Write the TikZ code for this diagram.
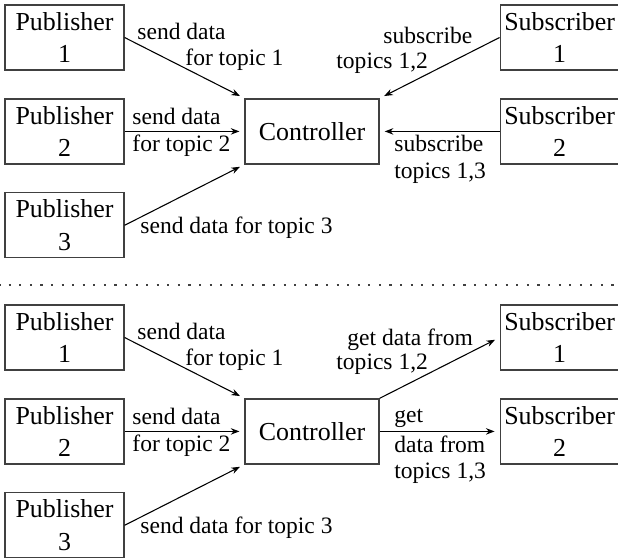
\documentclass[tikz,border=0pt]{standalone}
\usepackage{fontspec}
\setmainfont{Liberation Serif}
\usetikzlibrary{positioning,arrows.meta}

\begin{document}
\begin{tikzpicture}[x=0.4633pt, y=-0.4633pt,
  font=\fontsize{12}{15}\selectfont, node distance=12.8pt and 55.5pt,
  box/.style={draw=black!75, line width=0.6pt, text width=51.5pt, align=center, inner xsep=1.8pt, inner ysep=1pt, minimum height=30.1pt},
  ctrl/.style={draw=black!75, line width=0.6pt, minimum width=62.1pt, minimum height=30.1pt, inner sep=1pt},
  arr/.style={-{Stealth[length=4pt,width=3pt]}, line width=0.5pt, shorten >=2.3pt},
  lab/.style={font=\fontsize{10.9}{13}\selectfont, anchor=base west, inner sep=0pt},
  sep/.style={line width=0.7pt, black!75, dash pattern=on 1pt off 3.9pt, dash phase=-4pt}]
\useasboundingbox (0,0) rectangle (618,557);

% upper half: subscribers send requests to the controller
\node[box] (pub1) at (64.5,37.5) {Publisher\\1};
\node[box, below=of pub1] (pub2) {Publisher\\2};
\node[box, below=of pub2] (pub3) {Publisher\\3};
\node[ctrl, right=of pub2] (ctrl) {Controller};
\node[box, right=of ctrl] (sub2) {Subscriber\\2};
\node[box, above=of sub2] (sub1) {Subscriber\\1};
\draw[arr] (pub1.east) -- (ctrl.north west);
\draw[arr] (pub2.east) -- (ctrl.west);
\draw[arr] (pub3.east) -- (ctrl.south west);
\draw[arr] (sub1.west) -- (ctrl.north east);
\draw[arr] (sub2.west) -- (ctrl.east);
\node[lab] (t1a) at (137,39) {send data};
\node[lab] (t1b) at (185,65) {for topic 1};
\node[lab] (t2a) at (132,124) {send data};
\node[lab] (t2b) at (132,151) {for topic 2};
\node[lab] (t3) at (140,233) {send data for topic 3};
\node[lab] (u1a) at (383,43) {subscribe};
\node[lab] (u1b) at (336,68) {topics 1,2};
\node[lab] (u2a) at (394,151.5) {subscribe};
\node[lab] (u2b) at (394,178) {topics 1,3};

% separator
\coordinate (sepl) at (0,285);
\coordinate (sepr) at (618,285);
\draw[sep] (sepl) -- (sepr);

% lower half: the controller forwards the data
\node[box] (pubB1) at (64.5,337.5) {Publisher\\1};
\node[box, below=of pubB1] (pubB2) {Publisher\\2};
\node[box, below=of pubB2] (pubB3) {Publisher\\3};
\node[ctrl, right=of pubB2] (ctrlB) {Controller};
\node[box, right=of ctrlB] (subB2) {Subscriber\\2};
\node[box, above=of subB2] (subB1) {Subscriber\\1};
\draw[arr] (pubB1.east) -- (ctrlB.north west);
\draw[arr] (pubB2.east) -- (ctrlB.west);
\draw[arr] (pubB3.east) -- (ctrlB.south west);
\draw[arr] (ctrlB.north east) -- (subB1.west);
\draw[arr] (ctrlB.east) -- (subB2.west);
\node[lab] (tB1a) at (137,339) {send data};
\node[lab] (tB1b) at (185,365) {for topic 1};
\node[lab] (tB2a) at (132,424) {send data};
\node[lab] (tB2b) at (132,451) {for topic 2};
\node[lab] (tB3) at (140,533) {send data for topic 3};
\node[lab] (g1a) at (347,345) {get data from};
\node[lab] (g1b) at (336,369) {topics 1,2};
\node[lab] (g2a) at (394,422) {get};
\node[lab] (g2b) at (394,452) {data from};
\node[lab] (g2c) at (394,478) {topics 1,3};
\end{tikzpicture}
\end{document}
